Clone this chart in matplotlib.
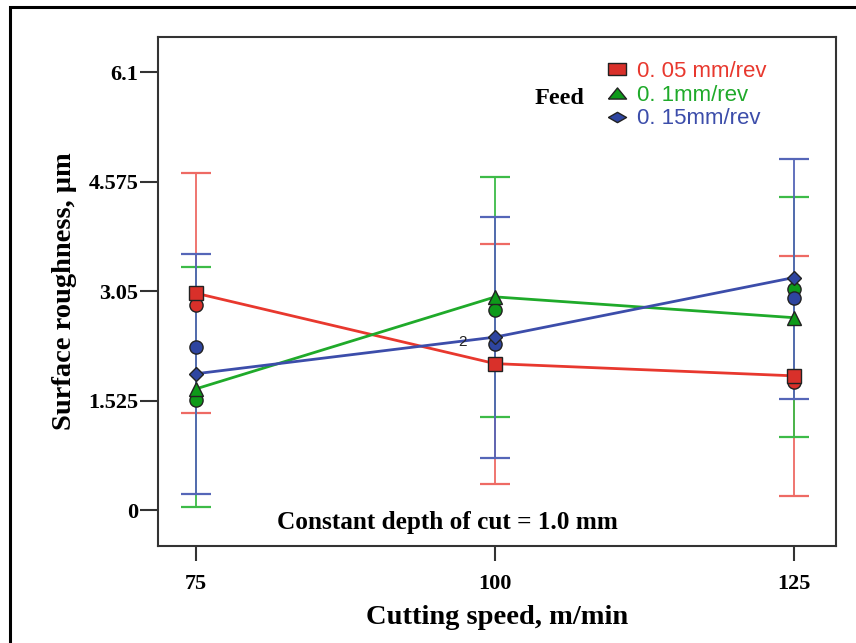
import matplotlib
matplotlib.use("Agg")
import matplotlib.pyplot as plt
from matplotlib.lines import Line2D
from matplotlib.patches import Rectangle

# ---- data ----
speeds = [75, 100, 125]
feed_labels = ["0. 05 mm/rev", "0. 1mm/rev", "0. 15mm/rev"]
# connected means (square / triangle / diamond)
mean_005 = [3.02, 2.04, 1.87]
mean_010 = [1.69, 2.97, 2.68]
mean_015 = [1.90, 2.41, 3.24]
# circle estimates
circ_005 = [2.85, 2.04, 1.79]
circ_010 = [1.53, 2.79, 3.08]
circ_015 = [2.27, 2.32, 2.95]
# interval limits
low_005 = [1.35, 0.36, 0.19]
high_005 = [4.70, 3.70, 3.54]
low_010 = [0.04, 1.29, 1.02]
high_010 = [3.38, 4.64, 4.36]
low_015 = [0.22, 0.73, 1.55]
high_015 = [3.57, 4.08, 4.89]
yticks = [0, 1.525, 3.05, 4.575, 6.1]
ytick_labels = ["0", "1.525", "3.05", "4.575", "6.1"]

# ---- style ----
line_cols = ["#E8382E", "#1FAA2A", "#3C4DAA"]
bar_cols = ["#EE6A64", "#3DBB48", "#5566B8"]
fill_cols = ["#D9302A", "#0E9A1A", "#2E45A0"]
markers = ["s", "^", "D"]
msizes = [10, 10, 7.5]
leg_markers = [
    [(-1.5, -1), (1.5, -1), (1.5, 1), (-1.5, 1), (-1.5, -1)],
    [(-1.3, -0.8), (1.3, -0.8), (0, 0.8), (-1.3, -0.8)],
    [(-1.4, 0), (0, 0.8), (1.4, 0), (0, -0.8), (-1.4, 0)],
]

serif = "Liberation Serif"

fig = plt.figure(figsize=(8.56, 6.43), dpi=100)
ax = fig.add_axes([158/856, 1-546/643, (836-158)/856, (546-37)/643])

series = [
    (mean_005, circ_005, low_005, high_005),
    (mean_010, circ_010, low_010, high_010),
    (mean_015, circ_015, low_015, high_015),
]

for i, (m, c, lo, hi) in enumerate(series):
    yerr = [[ci - l for ci, l in zip(c, lo)], [h - ci for ci, h in zip(c, hi)]]
    ax.errorbar(speeds, c, yerr=yerr, fmt="none", ecolor=bar_cols[i],
                elinewidth=1.3, capsize=10.5, capthick=1.6, zorder=2)

for i, (m, c, lo, hi) in enumerate(series):
    ax.plot(speeds, m, color=line_cols[i], lw=2, zorder=3)

for i, (m, c, lo, hi) in enumerate(series):
    ax.plot(speeds, c, linestyle="none", marker="o", markersize=9.5,
            markerfacecolor=fill_cols[i], markeredgecolor="#222222",
            markeredgewidth=1.0, zorder=4)
    ax.plot(speeds, m, linestyle="none", marker=markers[i], markersize=msizes[i],
            markerfacecolor=fill_cols[i], markeredgecolor="#222222",
            markeredgewidth=1.0, zorder=5)

ax.set_xlim(71.8, 128.5)
ax.set_ylim(-0.50, 6.59)
ax.set_xticks(speeds)
ax.set_xticklabels([str(s) for s in speeds])
ax.set_yticks(yticks)
ax.set_yticklabels(ytick_labels)

for sp in ax.spines.values():
    sp.set_color("#333333")
    sp.set_linewidth(1.5)

ax.tick_params(axis="y", direction="out", length=13, width=1.5, color="#333333", pad=1)
ax.tick_params(axis="x", direction="out", length=11, width=1.5, color="#333333", pad=9)
for lab in ax.get_xticklabels() + ax.get_yticklabels():
    lab.set_fontfamily(serif)
    lab.set_fontweight("bold")
    lab.set_fontsize(16)

ax.set_xlabel("Cutting speed, m/min", fontfamily=serif, fontweight="bold",
              fontsize=20.5, labelpad=8)
ax.set_ylabel("Surface roughness, μm", fontfamily=serif, fontweight="bold",
              fontsize=20.5, labelpad=8)

ax.text(97.3, 2.34, "2", fontsize=11, ha="center", va="center",
        fontfamily="Liberation Sans", color="#222222", zorder=6)
ax.text((447 - 158) / 678, 1 - (522 - 37) / 509, "Constant depth of cut = 1.0 mm",
        transform=ax.transAxes, fontfamily=serif, fontweight="bold", fontsize=18.2,
        ha="center", va="center")

handles = [Line2D([], [], linestyle="none", marker=leg_markers[i], markersize=13,
                  markerfacecolor=fill_cols[i], markeredgecolor="#222222",
                  markeredgewidth=1.0) for i in range(3)]
leg = ax.legend(handles, feed_labels, loc="upper left",
                bbox_to_anchor=((595 - 158) / 678, 1 - (50 - 37) / 509),
                frameon=False, handlelength=1.0, handletextpad=0.4,
                labelspacing=0.12, borderpad=0.0,
                prop={"family": "Liberation Sans", "size": 16})
for t, col in zip(leg.get_texts(), line_cols):
    t.set_color(col)
ax.text((559 - 158) / 678, 1 - (99 - 37) / 509, "Feed", transform=ax.transAxes,
        fontfamily=serif, fontweight="bold", fontsize=17.5, ha="center", va="center")

fig.patches.append(Rectangle((10/856, -0.05), 1.2, 1.05 - 7/643, fill=False,
                             lw=2.2, edgecolor="black", transform=fig.transFigure))

fig.savefig("out.png", dpi=100)
